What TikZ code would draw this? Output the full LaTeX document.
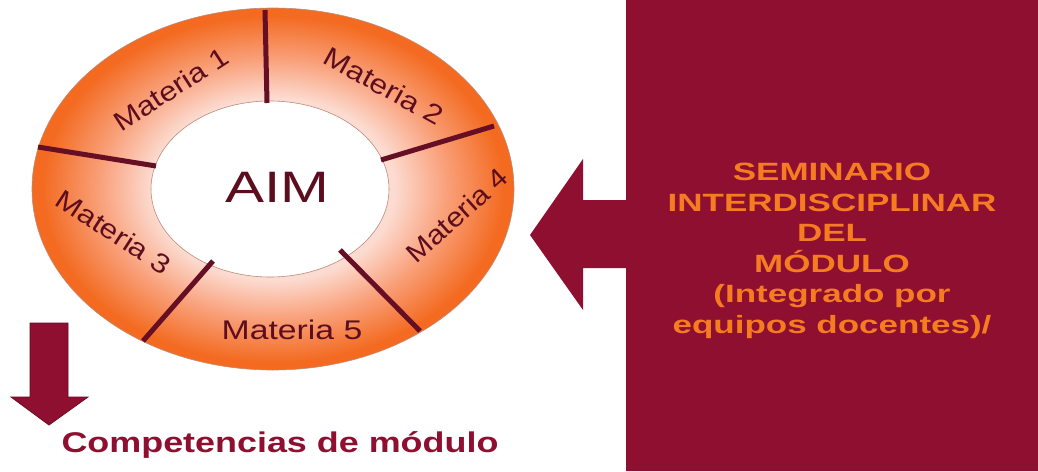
\documentclass[tikz,border=0pt]{standalone}
\usepackage{fontspec}
\setmainfont{Liberation Sans}
\definecolor{maroon}{RGB}{142,15,48}
\definecolor{maroondark}{RGB}{110,10,35}
\definecolor{semorange}{RGB}{246,124,34}
\definecolor{ringorange}{RGB}{243,106,32}
\definecolor{ringlight}{RGB}{249,160,122}
\definecolor{ringpale}{RGB}{252,220,210}
\definecolor{ringedge}{RGB}{190,140,120}
\definecolor{divcol}{RGB}{102,14,36}
\definecolor{ringtxt}{RGB}{92,14,30}
\pgfdeclareradialshading{ringshade}{\pgfpoint{0bp}{0bp}}{color(0bp)=(ringpale); color(12.5bp)=(ringpale); color(18bp)=(ringlight); color(24bp)=(ringorange); color(50bp)=(ringorange)}
\tikzset{
  divline/.style={draw=divcol, line width=5pt},
  ringtext/.style={font=\fontsize{27}{27}\selectfont, text=ringtxt, inner sep=0pt},
}
\begin{document}
\begin{tikzpicture}[x=1pt, y=-1pt]
\useasboundingbox (0,0) rectangle (1038,471);
\fill[white] (0,0) rectangle (1038,471);
% seminar block with arrow
\fill[maroon] (626,0) -- (1038,0) -- (1038,471) -- (626,471) -- (626,268) -- (583,268) -- (583,310) -- (530,235) -- (583,159) -- (583,200) -- (626,200) -- cycle;
% ring
\path[shading=ringshade, even odd rule, draw=ringedge, line width=0.6pt]
  (273,189) ellipse [x radius=241pt, y radius=181pt]
  (270,189) ellipse [x radius=119pt, y radius=88pt];
% dividers
\draw[divline] (265,10) -- (267,103);
\draw[divline] (38,147) -- (156,166);
\draw[divline] (381,160) -- (494,126);
\draw[divline] (143,341) -- (213,261);
\draw[divline] (340,250) -- (420,331);
% labels
\node[ringtext, rotate=33, xscale=1.16] (m1) at (171,89) {Materia 1};
\node[ringtext, rotate=-29, xscale=1.17] (m2) at (384,86) {Materia 2};
\node[ringtext, rotate=-33, xscale=1.16] (m3) at (114,232) {Materia 3};
\node[ringtext, rotate=42, xscale=1.12] (m4) at (457,215) {Materia 4};
\node[ringtext, xscale=1.25] (m5) at (292,330) {Materia 5};
\node[font=\fontsize{44}{44}\selectfont, text=ringtxt, inner sep=0pt, xscale=1.33] (aim) at (277.5,187.5) {AIM};
% seminar text
\node[font=\bfseries\fontsize{25}{30.5}\selectfont, text=semorange, align=center, anchor=north, inner sep=0pt, xscale=1.4] (sem) at (832,163)
  {SEMINARIO\\INTERDISCIPLINAR\\DEL\\MÓDULO\\(Integrado por\\equipos docentes)/};
% down arrow
\filldraw[fill=maroon, draw=maroondark, line width=0.8pt] (30,323) -- (68,323) -- (68,397) -- (88,397) -- (49,425) -- (11,397) -- (30,397) -- cycle;
\node[font=\bfseries\fontsize{28.5}{28.5}\selectfont, text=maroon, inner sep=0pt, xscale=1.26, anchor=base] (comp) at (280,452) {Competencias de módulo};
\end{tikzpicture}
\end{document}
